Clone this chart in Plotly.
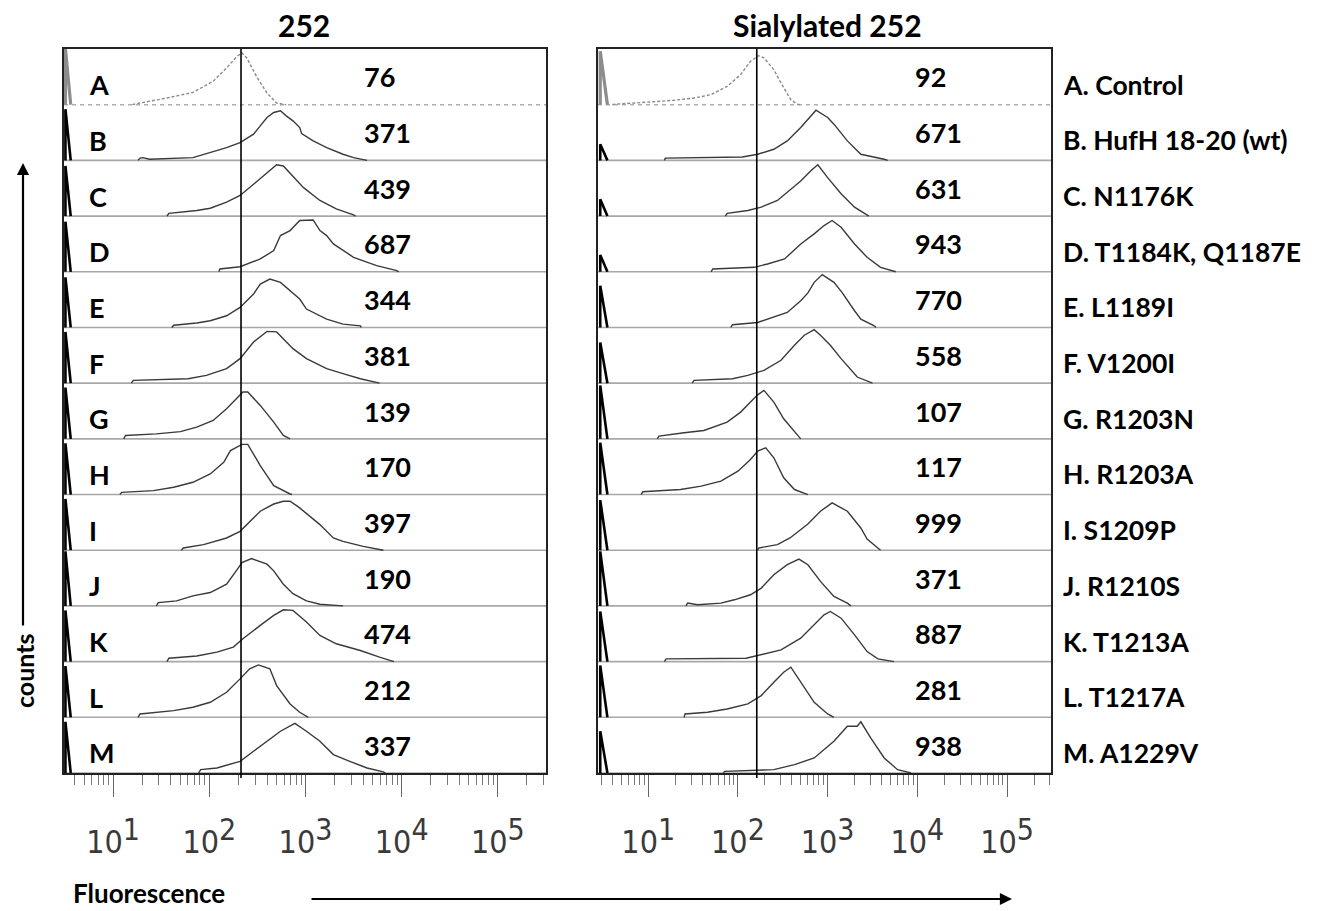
import plotly.graph_objects as go

# The page body has an 8px margin; the figure is sized so it fills the window from there.
PAGE_OFF = 8
WIN_W, WIN_H = 1318, 911
W, H = WIN_W - PAGE_OFF, WIN_H - PAGE_OFF


def px(xp):
    return (xp - PAGE_OFF) / W


def py(yp):
    return 1 - (yp - PAGE_OFF) / H


# ---------------- data ----------------
ROWS = list("ABCDEFGHIJKLM")
PANEL_TITLES = ["252", "Sialylated 252"]
LEFT_VALUES = [76, 371, 439, 687, 344, 381, 139, 170, 397, 190, 474, 212, 337]
RIGHT_VALUES = [92, 671, 631, 943, 770, 558, 107, 117, 999, 371, 887, 281, 938]
SAMPLE_LABELS = ["A. Control", "B. HufH 18-20 (wt)", "C. N1176K", "D. T1184K, Q1187E",
                 "E. L1189I", "F. V1200I", "G. R1203N", "H. R1203A", "I. S1209P",
                 "J. R1210S", "K. T1213A", "L. T1217A", "M. A1229V"]
TICK_DECADES = [1, 2, 3, 4, 5]
GATE_LOG = [2.33, 2.21]          # vertical marker (log10 fluorescence)

# pile-up spike in the first channel: (log10 x of apex, log10 x of foot) and heights per row
LEFT_SPIKE_X = [0.505, 0.56]
RIGHT_SPIKE_X = [0.465, 0.545]
LEFT_SPIKE_H = [1.0, 0.92, 0.9, 0.9, 0.9, 0.92, 0.92, 0.92, 0.92, 0.98, 0.92, 0.92, 0.92]
RIGHT_SPIKE_H = [0.96, 0.29, 0.30, 0.30, 0.75, 0.73, 0.96, 0.93, 0.9, 0.98, 0.9, 0.93, 0.75]

# histogram outlines: (log10 fluorescence, height as fraction of one row)
L_A = [(1.20, 0.0), (1.28, 0.03), (1.56, 0.12), (1.83, 0.22), (2.04, 0.42), (2.18, 0.66), (2.29, 0.87),
       (2.34, 0.93), (2.39, 0.84), (2.49, 0.51), (2.60, 0.21), (2.70, 0.03), (2.80, 0.0)]
L_B = [(1.26, 0.0), (1.28, 0.04), (1.31, 0.05), (1.38, 0.02), (1.83, 0.05), (2.01, 0.14), (2.18, 0.23),
       (2.32, 0.32), (2.46, 0.47), (2.53, 0.62), (2.60, 0.77), (2.67, 0.86), (2.74, 0.89), (2.80, 0.80),
       (2.87, 0.71), (2.94, 0.59), (2.96, 0.48), (3.08, 0.35), (3.22, 0.23), (3.39, 0.11), (3.50, 0.05),
       (3.64, 0.0)]
L_C = [(1.56, 0.0), (1.58, 0.05), (1.87, 0.10), (2.01, 0.14), (2.18, 0.25), (2.32, 0.37), (2.46, 0.57),
       (2.60, 0.78), (2.70, 0.92), (2.77, 0.90), (2.87, 0.72), (2.98, 0.51), (3.15, 0.28), (3.32, 0.13),
       (3.50, 0.02), (3.52, 0.0)]
L_D = [(2.10, 0.0), (2.11, 0.05), (2.32, 0.09), (2.53, 0.23), (2.67, 0.38), (2.74, 0.65), (2.84, 0.74),
       (2.94, 0.92), (3.08, 0.93), (3.15, 0.74), (3.22, 0.65), (3.29, 0.50), (3.50, 0.26), (3.74, 0.11),
       (3.95, 0.02), (3.97, 0.0)]
L_E = [(1.61, 0.0), (1.63, 0.04), (1.87, 0.08), (2.01, 0.12), (2.18, 0.21), (2.32, 0.36), (2.39, 0.48),
       (2.46, 0.60), (2.53, 0.78), (2.63, 0.87), (2.74, 0.81), (2.84, 0.66), (2.94, 0.51), (3.01, 0.33),
       (3.22, 0.15), (3.39, 0.06), (3.57, 0.03), (3.58, 0.0)]
L_F = [(1.19, 0.0), (1.21, 0.05), (1.78, 0.08), (1.97, 0.14), (2.18, 0.26), (2.32, 0.44), (2.46, 0.74),
       (2.60, 0.93), (2.70, 0.92), (2.87, 0.62), (3.01, 0.44), (3.22, 0.26), (3.39, 0.17), (3.57, 0.08),
       (3.77, 0.0)]
L_G = [(1.11, 0.0), (1.13, 0.06), (1.45, 0.09), (1.70, 0.13), (1.87, 0.21), (2.04, 0.33), (2.18, 0.54),
       (2.28, 0.72), (2.35, 0.84), (2.40, 0.84), (2.53, 0.60), (2.67, 0.30), (2.77, 0.06), (2.84, 0.0)]
L_H = [(1.07, 0.0), (1.09, 0.04), (1.42, 0.07), (1.63, 0.13), (1.83, 0.22), (2.01, 0.37), (2.15, 0.58),
       (2.22, 0.79), (2.34, 0.90), (2.40, 0.90), (2.53, 0.52), (2.67, 0.16), (2.84, 0.01), (2.86, 0.0)]
L_I = [(1.71, 0.0), (1.73, 0.04), (1.94, 0.10), (2.18, 0.22), (2.32, 0.34), (2.53, 0.70), (2.67, 0.83),
       (2.77, 0.88), (2.84, 0.88), (2.94, 0.76), (3.15, 0.46), (3.29, 0.22), (3.39, 0.16), (3.60, 0.07),
       (3.81, 0.0)]
L_J = [(1.45, 0.0), (1.47, 0.06), (1.66, 0.09), (1.83, 0.18), (2.01, 0.24), (2.18, 0.39), (2.28, 0.63),
       (2.34, 0.78), (2.44, 0.85), (2.60, 0.75), (2.67, 0.63), (2.77, 0.39), (2.87, 0.22), (3.01, 0.09),
       (3.15, 0.03), (3.39, 0.0)]
L_K = [(1.56, 0.0), (1.58, 0.06), (1.87, 0.10), (2.08, 0.17), (2.25, 0.26), (2.35, 0.41), (2.53, 0.65),
       (2.67, 0.83), (2.77, 0.93), (2.87, 0.92), (3.01, 0.71), (3.15, 0.47), (3.32, 0.32), (3.57, 0.20),
       (3.77, 0.08), (3.92, 0.0)]
L_L = [(1.26, 0.0), (1.28, 0.06), (1.63, 0.12), (1.83, 0.18), (2.01, 0.27), (2.18, 0.45), (2.32, 0.69),
       (2.42, 0.87), (2.51, 0.94), (2.63, 0.87), (2.70, 0.57), (2.84, 0.24), (2.94, 0.09), (3.03, 0.0)]
L_M = [(1.89, 0.0), (1.91, 0.06), (2.08, 0.09), (2.32, 0.21), (2.46, 0.39), (2.60, 0.57), (2.74, 0.75),
       (2.89, 0.89), (3.01, 0.75), (3.15, 0.57), (3.29, 0.33), (3.46, 0.21), (3.64, 0.09), (3.81, 0.02),
       (3.83, 0.0)]

R_A = [(0.60, 0.0), (0.63, 0.01), (0.85, 0.03), (1.29, 0.08), (1.51, 0.12), (1.70, 0.18), (1.88, 0.33),
       (2.03, 0.54), (2.14, 0.78), (2.23, 0.88), (2.29, 0.84), (2.40, 0.63), (2.48, 0.39), (2.59, 0.09),
       (2.66, 0.01), (2.70, 0.0)]
R_B = [(1.18, 0.0), (1.19, 0.04), (2.05, 0.06), (2.22, 0.11), (2.40, 0.20), (2.55, 0.35), (2.70, 0.59),
       (2.81, 0.80), (2.87, 0.90), (3.00, 0.77), (3.07, 0.65), (3.22, 0.35), (3.37, 0.11), (3.63, 0.02),
       (3.67, 0.0)]
R_C = [(1.86, 0.0), (1.88, 0.05), (2.11, 0.10), (2.26, 0.16), (2.44, 0.28), (2.55, 0.43), (2.70, 0.63),
       (2.81, 0.81), (2.89, 0.92), (3.00, 0.69), (3.15, 0.40), (3.30, 0.16), (3.44, 0.02), (3.46, 0.0)]
R_D = [(1.70, 0.0), (1.72, 0.05), (2.18, 0.08), (2.33, 0.14), (2.52, 0.23), (2.70, 0.50), (2.85, 0.68),
       (2.96, 0.83), (3.05, 0.92), (3.15, 0.80), (3.30, 0.50), (3.44, 0.26), (3.59, 0.08), (3.76, 0.0)]
R_E = [(1.92, 0.0), (1.94, 0.05), (2.22, 0.09), (2.33, 0.15), (2.55, 0.27), (2.70, 0.48), (2.78, 0.62),
       (2.85, 0.81), (2.94, 0.95), (3.07, 0.81), (3.16, 0.63), (3.30, 0.30), (3.37, 0.15), (3.52, 0.03),
       (3.54, 0.0)]
R_F = [(1.49, 0.0), (1.51, 0.05), (1.94, 0.08), (2.11, 0.14), (2.29, 0.23), (2.48, 0.41), (2.63, 0.68),
       (2.74, 0.86), (2.85, 0.96), (2.92, 0.86), (3.03, 0.68), (3.15, 0.44), (3.33, 0.11), (3.50, 0.0)]
R_G = [(1.10, 0.0), (1.12, 0.05), (1.40, 0.11), (1.62, 0.15), (1.88, 0.30), (2.03, 0.48), (2.14, 0.66),
       (2.22, 0.79), (2.29, 0.87), (2.40, 0.66), (2.51, 0.36), (2.63, 0.12), (2.70, 0.0)]
R_H = [(0.92, 0.0), (0.94, 0.05), (1.36, 0.09), (1.59, 0.15), (1.81, 0.24), (2.00, 0.42), (2.14, 0.63),
       (2.22, 0.78), (2.31, 0.84), (2.40, 0.66), (2.51, 0.30), (2.63, 0.09), (2.78, 0.0)]
R_I = [(2.22, 0.0), (2.23, 0.04), (2.44, 0.10), (2.58, 0.22), (2.78, 0.47), (2.92, 0.70), (3.05, 0.85),
       (3.22, 0.70), (3.37, 0.40), (3.44, 0.20), (3.59, 0.0)]
R_J = [(1.42, 0.0), (1.44, 0.05), (1.55, 0.02), (1.81, 0.05), (1.96, 0.11), (2.14, 0.20), (2.26, 0.32),
       (2.40, 0.56), (2.55, 0.74), (2.68, 0.84), (2.78, 0.74), (2.92, 0.44), (3.07, 0.17), (3.22, 0.05),
       (3.26, 0.0)]
R_K = [(1.18, 0.0), (1.20, 0.05), (2.09, 0.06), (2.26, 0.13), (2.48, 0.21), (2.70, 0.42), (2.85, 0.66),
       (2.96, 0.84), (3.03, 0.90), (3.15, 0.78), (3.30, 0.48), (3.44, 0.18), (3.56, 0.05), (3.74, 0.0)]
R_L = [(1.40, 0.0), (1.41, 0.06), (1.66, 0.09), (1.88, 0.15), (2.11, 0.24), (2.26, 0.39), (2.40, 0.63),
       (2.51, 0.81), (2.59, 0.90), (2.70, 0.63), (2.85, 0.27), (3.00, 0.06), (3.07, 0.0)]
R_M = [(1.84, 0.0), (1.85, 0.03), (2.40, 0.06), (2.63, 0.15), (2.85, 0.27), (3.07, 0.57), (3.22, 0.84),
       (3.33, 0.84), (3.37, 0.92), (3.48, 0.63), (3.63, 0.27), (3.78, 0.06), (3.93, 0.0)]

LEFT_CURVES = [L_A, L_B, L_C, L_D, L_E, L_F, L_G, L_H, L_I, L_J, L_K, L_L, L_M]
RIGHT_CURVES = [R_A, R_B, R_C, R_D, R_E, R_F, R_G, R_H, R_I, R_J, R_K, R_L, R_M]

# ---------------- layout geometry ----------------
X_RANGES = [[0.49, 5.5], [0.44, 5.49]]
X_DOMAINS = [[px(64), px(546)], [px(598), px(1051)]]
Y_DOMAIN = [py(773), py(49)]
NROW = len(ROWS)

BOLD = "Lato"
fig = go.Figure()

panels = [
    (LEFT_CURVES, LEFT_SPIKE_X, LEFT_SPIKE_H, "x", "y"),
    (RIGHT_CURVES, RIGHT_SPIKE_X, RIGHT_SPIKE_H, "x2", "y2"),
]

for p, (curves, spx, sph, xa, ya) in enumerate(panels):
    xr = X_RANGES[p]
    for i, curve in enumerate(curves):
        off = NROW - 1 - i
        is_ctrl = i == 0
        # baseline across the panel
        fig.add_trace(go.Scatter(
            x=[10 ** xr[0], 10 ** xr[1]], y=[off, off], mode="lines",
            line=dict(color="#a8a8a8" if not is_ctrl else "#b0b0b0", width=1.6,
                      dash="4px,4px" if is_ctrl else "solid"),
            xaxis=xa, yaxis=ya, showlegend=False, hoverinfo="skip"))
        # histogram outline
        fig.add_trace(go.Scatter(
            x=[10 ** v for v, _ in curve], y=[off + h for _, h in curve], mode="lines",
            line=dict(color="#8a8a8a" if is_ctrl else "#3a3a3a", width=1.4,
                      dash="3px,2px" if is_ctrl else "solid"),
            xaxis=xa, yaxis=ya, showlegend=False, hoverinfo="skip"))
        # first-channel spike
        fig.add_trace(go.Scatter(
            x=[10 ** spx[0], 10 ** spx[0], 10 ** spx[1]],
            y=[off, off + sph[i], off], mode="lines",
            line=dict(color="#8c8c8c" if is_ctrl else "#000000", width=3.2 if is_ctrl else 2.6),
            xaxis=xa, yaxis=ya, showlegend=False, hoverinfo="skip"))

    # gate marker line
    fig.add_shape(type="line", xref=xa, yref="paper",
                  x0=10 ** GATE_LOG[p], x1=10 ** GATE_LOG[p],
                  y0=py(778), y1=Y_DOMAIN[1],
                  line=dict(color="black", width=1.6))

minor_vals = [m * 10 ** d for d in range(0, 6) for m in range(2, 10)]
tick_vals = [10 ** d for d in TICK_DECADES]
tick_text = ["10<sup><span style='font-size:30px'>%d</span></sup>" % d for d in TICK_DECADES]


def xaxis_cfg(p, anchor):
    return dict(
        domain=X_DOMAINS[p], anchor=anchor, type="log", range=X_RANGES[p],
        showline=True, mirror=True, linecolor="#222222", linewidth=2,
        showgrid=False, zeroline=False,
        ticks="outside", tickvals=tick_vals, ticktext=tick_text,
        ticklen=22, tickwidth=1.4, tickcolor="#666666",
        ticklabelstandoff=18,
        tickfont=dict(family="Liberation Sans Narrow, Arial Narrow, DejaVu Sans Condensed",
                      size=32, color="#3a3a3a"),
        minor=dict(tickvals=minor_vals, ticks="outside", ticklen=10,
                   tickwidth=1.2, tickcolor="#777777"),
    )


def yaxis_cfg(anchor):
    return dict(
        domain=Y_DOMAIN, anchor=anchor, range=[0, NROW],
        showline=True, mirror=True, linecolor="#222222", linewidth=2,
        showgrid=False, zeroline=False, showticklabels=False, ticks="",
    )


annotations = []
# panel titles
for title, cx in zip(PANEL_TITLES, [304, 827]):
    annotations.append(dict(text="<b>%s</b>" % title, xref="paper", yref="paper",
                            x=px(cx), y=py(25), xanchor="center", yanchor="middle",
                            showarrow=False, font=dict(family=BOLD, size=30, color="black")))
for i in range(NROW):
    off = NROW - 1 - i
    annotations.append(dict(text="<b>%s</b>" % ROWS[i], xref="paper", yref="y",
                            x=px(87), y=off + 0.36, xanchor="left", yanchor="middle",
                            showarrow=False, font=dict(family=BOLD, size=27, color="black")))
    annotations.append(dict(text="<b>%d</b>" % LEFT_VALUES[i], xref="paper", yref="y",
                            x=px(362), y=off + 0.5, xanchor="left", yanchor="middle",
                            showarrow=False, font=dict(family=BOLD, size=27, color="black")))
    annotations.append(dict(text="<b>%d</b>" % RIGHT_VALUES[i], xref="paper", yref="y2",
                            x=px(913), y=off + 0.5, xanchor="left", yanchor="middle",
                            showarrow=False, font=dict(family=BOLD, size=27, color="black")))
    annotations.append(dict(text="<b>%s</b>" % SAMPLE_LABELS[i], xref="paper", yref="y2",
                            x=px(1061), y=off + 0.36, xanchor="left", yanchor="middle",
                            showarrow=False, font=dict(family=BOLD, size=26.5, color="black")))

annotations.append(dict(text="<b>counts</b>", xref="paper", yref="paper",
                        x=px(24), y=py(671), xanchor="center", yanchor="middle",
                        textangle=-90, showarrow=False,
                        font=dict(family=BOLD, size=25, color="black")))
annotations.append(dict(text="<b>Fluorescence</b>", xref="paper", yref="paper",
                        x=px(71), y=py(893), xanchor="left", yanchor="middle",
                        showarrow=False, font=dict(family=BOLD, size=26, color="black")))
# axis direction arrows
annotations.append(dict(text="", xref="paper", yref="paper", x=px(23), y=py(163),
                        ax=0, ay=627 - 163, showarrow=True, arrowhead=2, arrowsize=1.1,
                        arrowwidth=2.2, arrowcolor="black"))
annotations.append(dict(text="", xref="paper", yref="paper", x=px(1012), y=py(899),
                        ax=-(1012 - 310), ay=0, showarrow=True, arrowhead=2, arrowsize=1.1,
                        arrowwidth=2.2, arrowcolor="black"))

fig.update_layout(
    width=W, height=H, autosize=False,
    margin=dict(l=0, r=0, t=0, b=0),
    paper_bgcolor="white", plot_bgcolor="white",
    xaxis=xaxis_cfg(0, "y"), yaxis=yaxis_cfg("x"),
    xaxis2=xaxis_cfg(1, "y2"), yaxis2=yaxis_cfg("x2"),
    annotations=annotations,
    showlegend=False,
)

fig.write_html("out.html")
